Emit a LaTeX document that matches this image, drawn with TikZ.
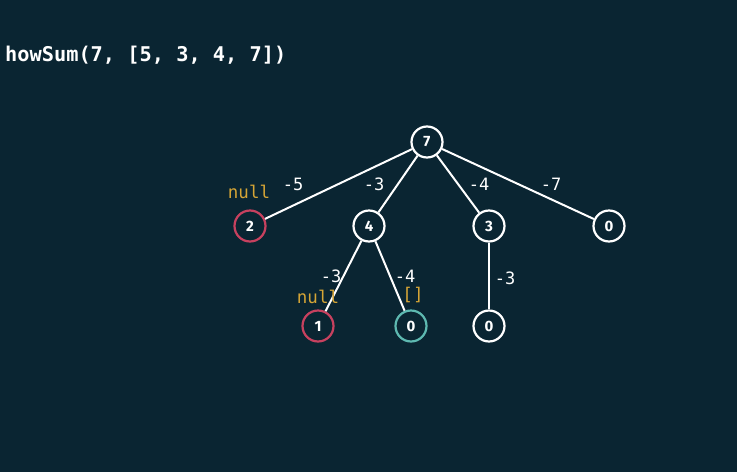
\documentclass[tikz,border=0pt]{standalone}
\usepackage{fontspec}
\setmainfont{Fira Sans}
\newfontfamily\codefont{DejaVu Sans Mono}
\begin{document}
\definecolor{bg}{HTML}{0A2532}
\definecolor{nullred}{HTML}{C8415F}
\definecolor{hitteal}{HTML}{5EB9B1}
\definecolor{resgold}{HTML}{D5A536}
\begin{tikzpicture}[x=1pt,y=-1pt,
  treenode/.style={circle,draw=white,line width=2.2pt,fill=bg,minimum size=31pt,inner sep=0pt,
    text=white,font=\fontsize{15}{15}\selectfont\bfseries},
  failnode/.style={treenode,draw=nullred},
  hitnode/.style={treenode,draw=hitteal},
  edge/.style={draw=white,line width=2pt},
  wlabel/.style={text=white,font=\codefont\fontsize{17}{17}\selectfont,inner sep=0pt},
  rlabel/.style={text=resgold,font=\codefont\fontsize{17.5}{17}\selectfont,inner sep=0pt}]
  \fill[bg] (0,0) rectangle (737,472);
  \useasboundingbox (0,0) rectangle (737,472);
  % call signature
  \node[anchor=base west,inner sep=0pt,text=white,font=\codefont\bfseries\fontsize{20.3}{22}\selectfont]
    (title) at (5,61) {howSum(7, [5, 3, 4, 7])};
  % tree
  \node[treenode] (r)  at (427,142) {7};
  \node[failnode] (a)  at (250,226) {2};
  \node[treenode] (b)  at (369,226) {4};
  \node[treenode] (c)  at (489,226) {3};
  \node[treenode] (d)  at (609,226) {0};
  \node[failnode] (b1) at (318,326) {1};
  \node[hitnode]  (b2) at (411,326) {0};
  \node[treenode] (c1) at (489,326) {0};
  \path[edge] (r) -- (a);
  \path[edge] (r) -- (b);
  \path[edge] (r) -- (c);
  \path[edge] (r) -- (d);
  \path[edge] (b) -- (b1);
  \path[edge] (b) -- (b2);
  \path[edge] (c) -- (c1);
  % edge weights
  \node[wlabel] (w1) at (293,184) {-5};
  \node[wlabel] (w2) at (374,184) {-3};
  \node[wlabel] (w3) at (479,184) {-4};
  \node[wlabel] (w4) at (551,184) {-7};
  \node[wlabel] (w5) at (331,276) {-3};
  \node[wlabel] (w6) at (405,276) {-4};
  \node[wlabel] (w7) at (505,278) {-3};
  % return values
  \node[rlabel] (n1) at (249,192) {null};
  \node[rlabel] (n2) at (318,297) {null};
  \node[rlabel] (n3) at (413,295) {[]};
\end{tikzpicture}
\end{document}
